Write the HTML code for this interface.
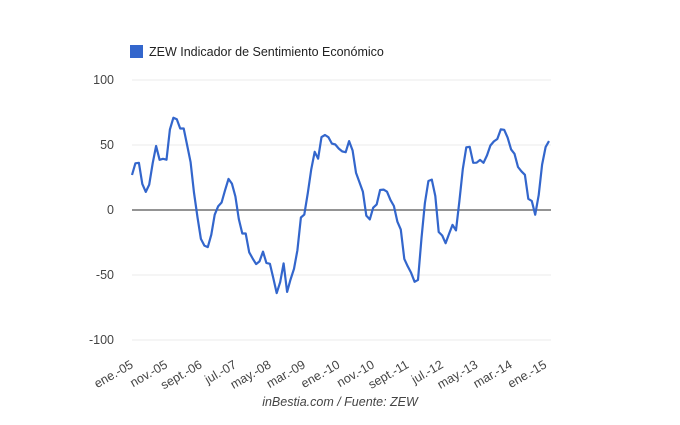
<!DOCTYPE html>
<html><head><meta charset="utf-8"><style>
body{margin:0;background:#fff;width:680px;height:420px;overflow:hidden}
svg text{font-family:"Liberation Sans",Arial,sans-serif}
</style></head><body>
<svg id="chart" width="680" height="420" viewBox="0 0 680 420">
<rect x="130" y="45" width="13" height="13" fill="#3366cc"/>
<text x="149" y="56" font-size="12.5" fill="#222">ZEW Indicador de Sentimiento Económico</text>
<g id="grid"></g><g id="xl"></g>
<path id="line" fill="none" stroke="#3366cc" stroke-width="2.2" stroke-linejoin="round"/>
<text x="340" y="406" font-size="12.5" font-style="italic" fill="#444" text-anchor="middle">inBestia.com / Fuente: ZEW</text>
</svg>
<script>
const yTicks=[100,50,0,-50,-100];
const xLabels=["ene.-05","nov.-05","sept.-06","jul.-07","may.-08","mar.-09","ene.-10","nov.-10","sept.-11","jul.-12","may.-13","mar.-14","ene.-15"];
const values=[26.9,35.9,36.3,20.1,13.9,19.5,36.0,49.2,38.6,39.4,38.7,61.9,
71.0,69.8,62.7,62.7,50.0,36.8,13.3,-5.6,-22.2,-27.4,-28.5,-19.0,
-3.6,2.9,5.8,15.1,23.9,20.3,10.4,-6.9,-18.1,-18.1,-32.5,-37.2,
-41.6,-39.5,-32.0,-40.7,-41.4,-52.4,-63.9,-55.5,-41.1,-63.0,-53.5,-45.2,
-31.0,-5.8,-3.5,13.0,31.1,44.8,39.5,56.1,57.7,56.0,51.1,50.4,
47.2,45.1,44.5,53.0,45.8,28.7,21.2,14.0,-4.3,-7.2,1.8,4.3,
15.4,15.7,14.1,7.6,3.1,-9.0,-15.1,-37.6,-43.3,-48.3,-55.2,-53.8,
-21.6,5.4,22.3,23.4,10.8,-16.9,-19.6,-25.5,-18.2,-11.5,-15.7,6.9,
31.5,48.2,48.5,36.3,36.4,38.5,36.3,42.0,49.6,52.8,54.6,62.0,
61.7,55.7,46.6,43.2,33.1,29.8,27.1,8.6,6.9,-3.6,11.5,34.9,
48.4,53.0];
const ns="http://www.w3.org/2000/svg";
const x0=132,x1=549,step=(x1-x0)/(values.length-1);
const xs=i=>x0+i*step, ys=v=>210-v*1.3;
const g=document.getElementById('grid'),xl=document.getElementById('xl');
yTicks.forEach(t=>{
 const l=document.createElementNS(ns,'line');
 
 
 l.setAttribute('x1',x0);l.setAttribute('x2',551);l.setAttribute('y1',ys(t));l.setAttribute('y2',ys(t));
 l.setAttribute('stroke',t===0?'#555':'#ebebeb');l.setAttribute('stroke-width',t===0?1.3:1);
 g.appendChild(l);
 const tx=document.createElementNS(ns,'text');
 
 
 tx.setAttribute('x',114);tx.setAttribute('y',ys(t)+4);tx.setAttribute('text-anchor','end');
 tx.setAttribute('font-size','12.5');tx.setAttribute('fill','#444');tx.textContent=t;g.appendChild(tx);
});
xLabels.forEach((s,k)=>{
 const x=xs(k*10)+2,y=367;
 const tx=document.createElementNS(ns,'text');
 
 
 tx.setAttribute('x',x);tx.setAttribute('y',y);tx.setAttribute('text-anchor','end');
 tx.setAttribute('font-size','12.5');tx.setAttribute('fill','#444');
 tx.setAttribute('transform',`rotate(-30 ${x} ${y})`);tx.textContent=s;xl.appendChild(tx);
});
document.getElementById('line').setAttribute('d',values.map((v,i)=>(i?'L':'M')+xs(i).toFixed(1)+' '+ys(v).toFixed(1)).join(''));
</script>
</body></html>
